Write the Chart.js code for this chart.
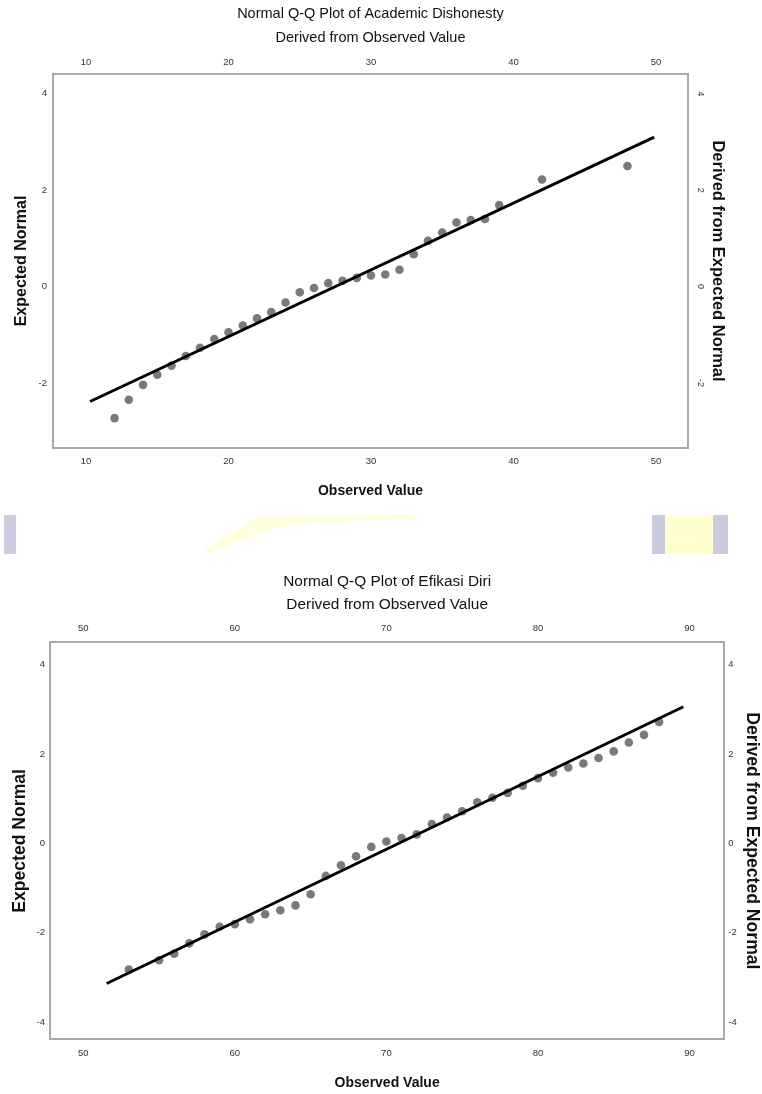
<!DOCTYPE html>
<html><head><meta charset="utf-8">
<script src="https://cdn.jsdelivr.net/npm/chart.js@4.4.1/dist/chart.umd.min.js"></script>
<style>
html,body{margin:0;padding:0;background:#fff;width:762px;height:1094px;overflow:hidden;}
body{position:relative;}
canvas{position:absolute;left:0;}
#c1{top:0;}
#c2{top:560px;}
.stripe{position:absolute;top:515px;height:39px;}
#blob{position:absolute;left:200px;top:513px;width:220px;height:42px;background:#fffbc0;opacity:.5;
clip-path:polygon(60px 2px,215px 2px,215px 6px,110px 9px,65px 18px,30px 32px,12px 40px,3px 38px,22px 26px,45px 12px);}
</style></head><body>
<div class="stripe" style="left:4px;width:12px;background:#cdcddf"></div>
<div class="stripe" style="left:652px;width:13px;background:#cbcbdd"></div>
<div class="stripe" style="left:665px;width:48px;background:#ffffcf"></div>
<div class="stripe" style="left:713px;width:15px;background:#cbcbdd"></div>
<div id="blob"></div>
<canvas id="c1" width="762" height="505"></canvas>
<canvas id="c2" width="762" height="534"></canvas>
<script>
// ---- Chart 1: Academic Dishonesty ----
const title1 = 'Normal Q-Q Plot of Academic Dishonesty';
const subtitle1 = 'Derived from Observed Value';
const observed1 = [12,13,14,15,16,17,18,19,20,21,22,23,24,25,26,27,28,29,30,31,32,33,34,35,36,37,38,39,42,48];
const expected1 = [-2.73,-2.35,-2.04,-1.83,-1.64,-1.44,-1.27,-1.09,-0.95,-0.81,-0.66,-0.53,-0.33,-0.12,-0.03,0.07,0.12,0.18,0.23,0.25,0.35,0.67,0.95,1.12,1.33,1.38,1.40,1.69,2.22,2.50];
const lineX1 = [10.28, 49.88];
const lineY1 = [-2.385, 3.10];
const xRange1 = [7.68, 52.25];
const yRange1 = [-3.35, 4.41];
const xTicks1 = [10,20,30,40,50];
const yTicks1 = [-2,0,2,4];

// ---- Chart 2: Efikasi Diri ----
const title2 = 'Normal Q-Q Plot of Efikasi Diri';
const subtitle2 = 'Derived from Observed Value';
const observed2 = [53,55,56,57,58,59,60,61,62,63,64,65,66,67,68,69,70,71,72,73,74,75,76,77,78,79,80,81,82,83,84,85,86,87,88];
const expected2 = [-2.83,-2.62,-2.47,-2.24,-2.04,-1.87,-1.81,-1.70,-1.59,-1.50,-1.39,-1.14,-0.73,-0.49,-0.29,-0.08,0.04,0.12,0.20,0.43,0.58,0.72,0.92,1.02,1.13,1.29,1.46,1.58,1.70,1.79,1.91,2.06,2.26,2.43,2.72];
const lineX2 = [51.54, 89.60];
const lineY2 = [-3.14, 3.06];
const xRange2 = [47.8, 92.3];
const yRange2 = [-4.39, 4.50];
const xTicks2 = [50,60,70,80,90];
const yTicks2 = [-4,-2,0,2,4];

const xTitle = 'Observed Value';
const yTitle = 'Expected Normal';
const y2Title = 'Derived from Expected Normal';

const SANS = "'Liberation Sans',Arial,sans-serif";
const BORDER = {display:true, color:'#a9a9a9', width:2};
const NOGRID = {display:false, drawTicks:false};

function toPts(xs, ys){ return xs.map((x,i)=>({x:x, y:ys[i]})); }
function fixTicks(vals){ return s => { s.ticks = vals.map(v=>({value:v})); }; }

function qq(id, c){
  return new Chart(document.getElementById(id), {
    type:'scatter',
    data:{datasets:[
      {data:toPts(c.lx,c.ly), showLine:true, borderColor:'#000', borderWidth:3, pointRadius:0, order:0, xAxisID:'x', yAxisID:'y'},
      {data:toPts(c.ox,c.ey), backgroundColor:'#7a7a7a', borderWidth:0, pointRadius:4.3, order:1, xAxisID:'x', yAxisID:'y'}
    ]},
    options:{
      responsive:false, animation:false, devicePixelRatio:1,
      layout:{padding:0, autoPadding:false},
      plugins:{
        legend:{display:false}, tooltip:{enabled:false},
        title:{display:true, text:c.title, fullSize:false, color:'#111', font:{family:SANS,size:c.tSize,weight:'normal',lineHeight:1.2}, padding:c.tPad},
        subtitle:{display:true, text:c.subtitle, fullSize:false, color:'#111', font:{family:SANS,size:c.tSize,weight:'normal',lineHeight:1.2}, padding:c.sPad}
      },
      scales:{
        x:{type:'linear', position:'bottom', min:c.xr[0], max:c.xr[1], afterBuildTicks:fixTicks(c.xt),
           ticks:{font:{family:SANS,size:9.5}, color:'#333', padding:c.xPad},
           grid:NOGRID, border:BORDER,
           title:{display:true, text:xTitle, color:'#111', font:{family:SANS,size:14,weight:'bold',lineHeight:1.2}, padding:{top:0,bottom:c.xtPad}},
           afterFit:s=>{s.height=c.xH;}},
        x2:{type:'linear', position:'top', min:c.xr[0], max:c.xr[1], afterBuildTicks:fixTicks(c.xt),
           ticks:{font:{family:SANS,size:9.5}, color:'#333', padding:c.x2Pad},
           grid:NOGRID, border:BORDER,
           afterFit:s=>{s.height=c.x2H;}},
        y:{type:'linear', position:'left', min:c.yr[0], max:c.yr[1], afterBuildTicks:fixTicks(c.yt),
           ticks:{font:{family:SANS,size:9.5}, color:'#333', padding:c.yPad},
           grid:NOGRID, border:BORDER,
           title:{display:true, text:yTitle, color:'#111', font:{family:SANS,size:c.ytSize,weight:'bold',lineHeight:1.2}, padding:{top:c.ytPad,bottom:0}},
           afterFit:s=>{s.width=c.yW;}},
        y2:{type:'linear', position:'right', min:c.yr[0], max:c.yr[1], afterBuildTicks:fixTicks(c.yt),
           ticks:{font:{family:SANS,size:c.y2Size}, color:'#333', padding:c.y2Pad, minRotation:c.y2Rot, maxRotation:c.y2Rot, crossAlign:c.y2Cross},
           grid:NOGRID, border:BORDER,
           title:{display:true, text:y2Title, color:'#111', font:{family:SANS,size:c.y2tSize,weight:'bold',lineHeight:1.2}, padding:{top:c.y2tPad,bottom:0}},
           afterFit:s=>{s.width=c.y2W;}}
      }
    }
  });
}

qq('c1', {title:title1, subtitle:subtitle1, ox:observed1, ey:expected1, lx:lineX1, ly:lineY1,
  xr:xRange1, yr:yRange1, xt:xTicks1, yt:yTicks1,
  tSize:14.5, tPad:{top:4.8,bottom:0}, sPad:{top:7.1,bottom:0},
  xH:57, xPad:7.3, xtPad:5.6, x2H:27.3, x2Pad:6.3,
  yW:53, yPad:6, ytSize:16, ytPad:12.4,
  y2W:74, y2Size:9, y2Pad:8, y2Rot:-90, y2Cross:'center', y2tSize:16.5, y2tPad:34.1});

qq('c2', {title:title2, subtitle:subtitle2, ox:observed2, ey:expected2, lx:lineX2, ly:lineY2,
  xr:xRange2, yr:yRange2, xt:xTicks2, yt:yTicks2,
  tSize:15.4, tPad:{top:12.75,bottom:0}, sPad:{top:4.5,bottom:0},
  xH:54.7, xPad:8, xtPad:2.6, x2H:28.25, x2Pad:8.8,
  yW:50, yPad:5, ytSize:17.6, ytPad:9.4,
  y2W:37.7, y2Size:9.5, y2Pad:4, y2Rot:0, y2Cross:'near', y2tSize:17.6, y2tPad:0});
</script>
</body></html>
